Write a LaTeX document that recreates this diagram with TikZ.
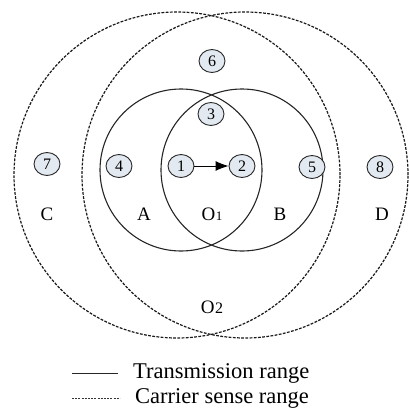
\documentclass[tikz,border=0pt]{standalone}
\usepackage{fontspec}
\setmainfont{Liberation Serif}
\usetikzlibrary{shapes.geometric,arrows.meta}
\definecolor{nodefill}{HTML}{E3E9F1}
\tikzset{
  station/.style={ellipse,draw=black!85,line width=0.9pt,fill=nodefill,inner sep=0pt,
    minimum width=26pt,minimum height=23pt,font=\fontsize{16}{16}\selectfont},
  trange/.style={draw=black!85,line width=1.1pt},
  csrange/.style={draw=black!90,line width=1.2pt,dash pattern=on 2.8pt off 1.4pt},
  area/.style={font=\fontsize{19}{19}\selectfont},
  legendtext/.style={anchor=west,font=\fontsize{22.5}{22.5}\selectfont,inner sep=0pt}
}
\begin{document}
\begin{tikzpicture}[x=1pt,y=-1pt]
\useasboundingbox (0,0) rectangle (409,412);
% carrier sense ranges
\draw[csrange] (177,175) circle[radius=163pt];
\draw[csrange] (245,175) circle[radius=163pt];
% transmission ranges
\draw[trange] (181,170) circle[radius=81pt];
\draw[trange] (242,170) circle[radius=81pt];
% stations
\node[station] (n6) at (212,61) {6};
\node[station] (n3) at (211,114) {3};
\node[station] (n7) at (47,164) {7};
\node[station] (n4) at (119,166) {4};
\node[station] (n1) at (181,166) {1};
\node[station] (n2) at (242,166) {2};
\node[station] (n5) at (312,167) {5};
\node[station] (n8) at (380,167) {8};
\draw[line width=0.9pt,-{Latex[length=13pt,width=10pt]}] (n1) -- (n2);
% area labels
\node[area] (lC) at (47,214) {C};
\node[area] (lA) at (144,214) {A};
\node[area] (lO1) at (212,214) {O\kern0.5pt{\fontsize{13}{13}\selectfont 1}};
\node[area] (lB) at (280,214) {B};
\node[area] (lD) at (382,214) {D};
\node[area] (lO2) at (212,307) {O\kern0.5pt{\fontsize{16}{16}\selectfont 2}};
% legend
\coordinate (s1) at (72,373);
\coordinate (s2) at (118,373);
\coordinate (d1) at (72,398);
\coordinate (d2) at (120,398);
\draw[trange,line width=1pt] (s1) -- (s2);
\draw[draw=black!80,line width=0.8pt,dash pattern=on 2pt off 1.2pt] (d1) -- (d2);
\node[legendtext] (t1) at (133,373) {Transmission range};
\node[legendtext] (t2) at (135,398) {Carrier sense range};
\end{tikzpicture}
\end{document}
